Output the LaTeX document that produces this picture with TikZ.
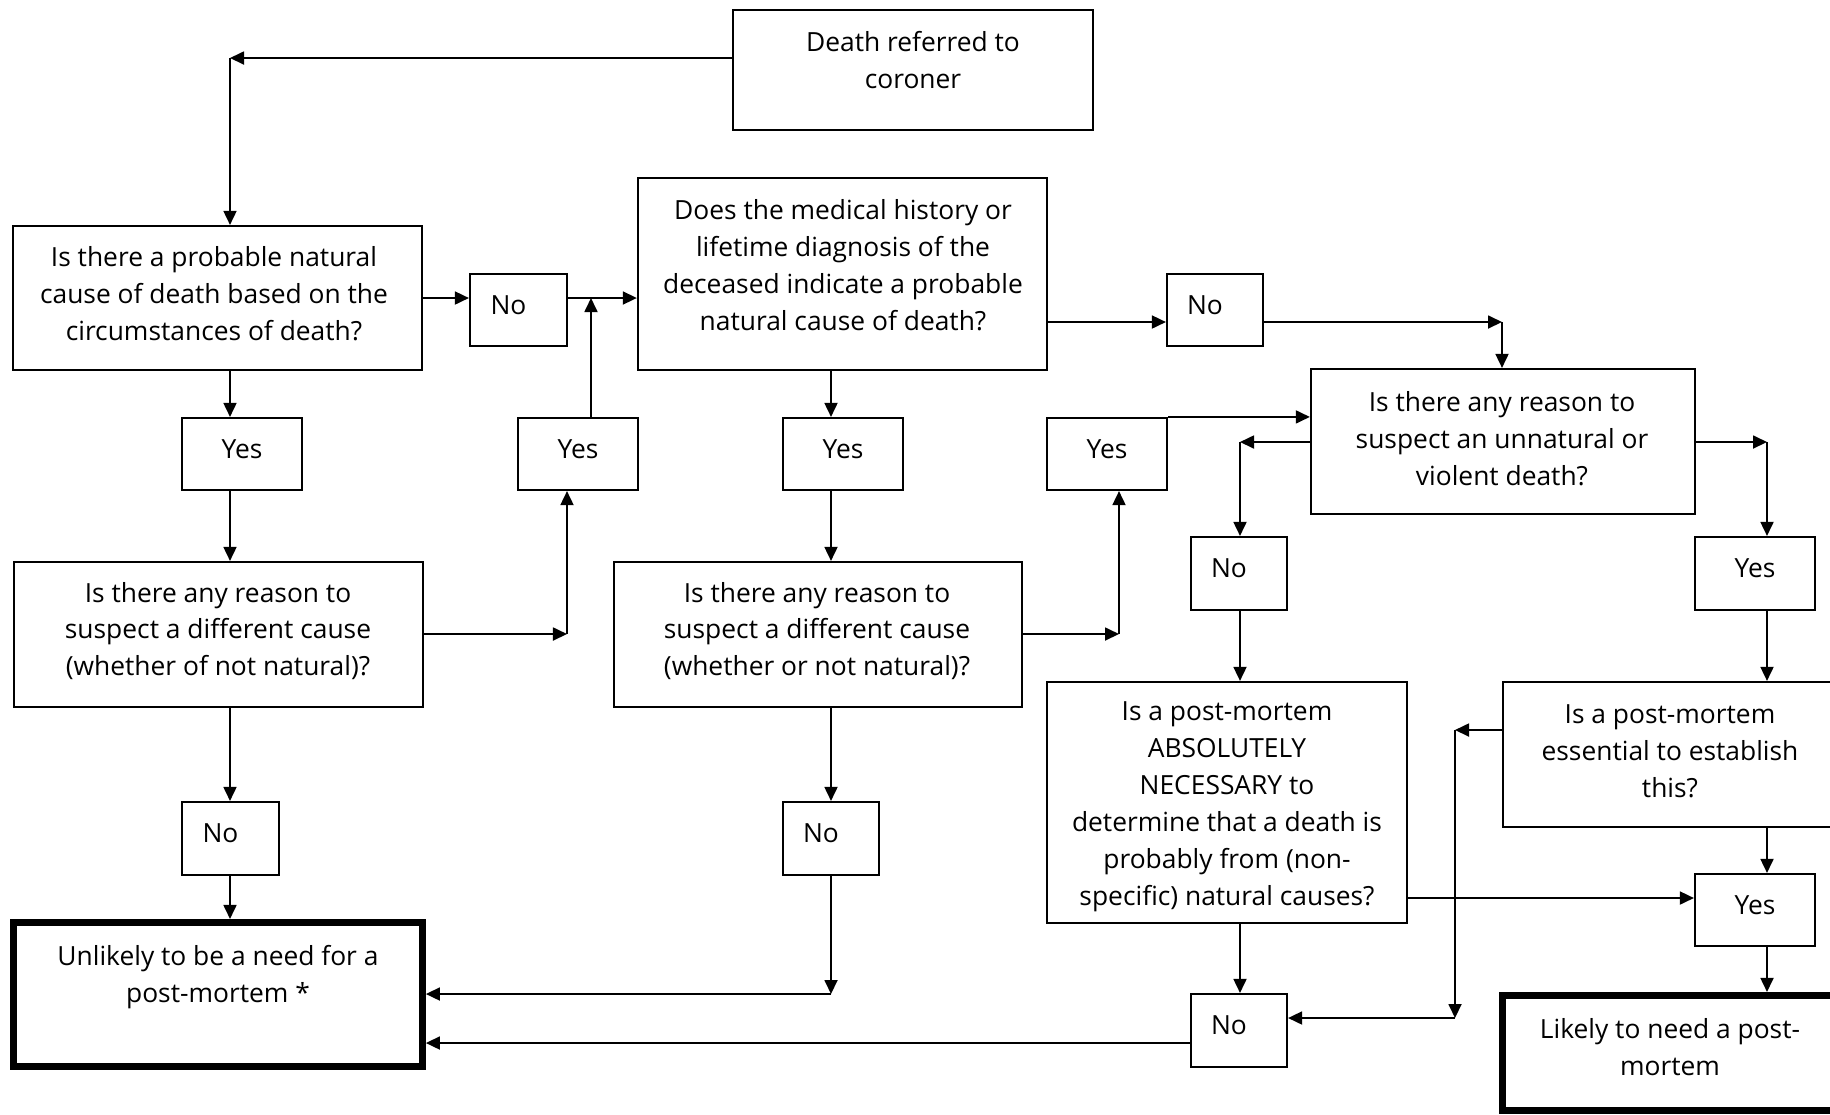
\documentclass[tikz,border=0pt]{standalone}
\usepackage{fontspec}
\setmainfont{Open Sans}
\usetikzlibrary{arrows.meta}
\begin{document}
\begin{tikzpicture}[x=0.01cm,y=-0.01cm,
  every node/.style={font=\fontsize{7.5pt}{10.5pt}\selectfont},
  box/.style={draw, line width=0.6pt, align=center, inner sep=0pt},
  small/.style={box, text depth=0.1cm},
  term/.style={draw, line width=2pt, inner sep=0pt},
  txt/.style={align=center, inner sep=0pt},
  arr/.style={line width=0.5pt, -{Triangle[length=0.14cm,width=0.13cm]}},
]
\useasboundingbox (0,0) rectangle (1830,1114);
\clip (0,0) rectangle (1830,1114);

% boxes
\node[box, minimum width=3.60cm, minimum height=1.20cm] (death) at (913,70) {};
\node[txt] (deathT) at (913,60) {Death referred to\\coroner};

\node[box, minimum width=4.09cm, minimum height=1.44cm] (q1) at (217.5,298) {};
\node[txt] (q1T) at (214,294) {Is there a probable natural\\cause of death based on the\\circumstances of death?};

\node[box, minimum width=4.09cm, minimum height=1.92cm] (q2) at (842.5,274) {};
\node[txt] (q2T) at (843,265) {Does the medical history or\\lifetime diagnosis of the\\deceased indicate a probable\\natural cause of death?};

\node[small, minimum width=0.97cm, minimum height=0.72cm] (no1) at (518.5,310) {No\hspace*{0.2cm}};
\node[small, minimum width=0.96cm, minimum height=0.72cm] (no4) at (1215,310) {No\hspace*{0.2cm}};

\node[small, minimum width=1.20cm, minimum height=0.72cm] (yes1) at (242,454) {Yes};
\node[small, minimum width=1.20cm, minimum height=0.72cm] (yes2) at (578,454) {Yes};
\node[small, minimum width=1.20cm, minimum height=0.72cm] (yes3) at (843,454) {Yes};
\node[small, minimum width=1.20cm, minimum height=0.72cm] (yes4) at (1107,454) {Yes};

\node[box, minimum width=3.84cm, minimum height=1.45cm] (q6) at (1503,441.5) {};
\node[txt] (q6T) at (1502,439) {Is there any reason to\\suspect an unnatural or\\violent death?};

\node[box, minimum width=4.09cm, minimum height=1.45cm] (q3) at (218.5,634.5) {};
\node[txt] (q3T) at (218,631) {Is there any reason to\\suspect a different cause\\(whether of not natural)?};

\node[box, minimum width=4.08cm, minimum height=1.45cm] (q4) at (818,634.5) {};
\node[txt] (q4T) at (817,631) {Is there any reason to\\suspect a different cause\\(whether or not natural)?};

\node[small, minimum width=0.96cm, minimum height=0.73cm] (no5) at (1239,573.5) {No\hspace*{0.2cm}};
\node[small, minimum width=1.20cm, minimum height=0.73cm] (yes5) at (1755,573.5) {Yes};

\node[box, minimum width=3.60cm, minimum height=2.41cm] (q5) at (1227,802.5) {};
\node[txt] (q5T) at (1227,807) {Is a post-mortem\\ABSOLUTELY\\NECESSARY to\\determine that a death is\\probably from (non-\\specific) natural causes?};

\node[box, minimum width=3.37cm, minimum height=1.45cm] (q7) at (1671.5,754.5) {};
\node[txt] (q7T) at (1670,751) {Is a post-mortem\\essential to establish\\this?};

\node[small, minimum width=0.97cm, minimum height=0.73cm] (no2) at (230.5,838.5) {No\hspace*{0.2cm}};
\node[small, minimum width=0.96cm, minimum height=0.73cm] (no3) at (831,838.5) {No\hspace*{0.2cm}};
\node[small, minimum width=1.20cm, minimum height=0.72cm] (yes6) at (1755,910) {Yes};
\node[small, minimum width=0.96cm, minimum height=0.73cm] (no6) at (1239,1030.5) {No\hspace*{0.2cm}};

\node[term, minimum width=4.085cm, minimum height=1.44cm] (unl) at (218,994.5) {};
\node[txt] (unlT) at (218,977) {Unlikely to be a need for a\\post-mortem *};

\node[term, minimum width=3.37cm, minimum height=1.15cm] (likely) at (1671,1053) {};
\node[txt] (likelyT) at (1670,1047.5) {Likely to need a post-\\mortem};

% connectors
\coordinate (c0) at (230,58);
\draw[arr] (death.west |- c0) -- (c0);
\draw[arr] (c0) -- (c0 |- q1.north);

\coordinate (c12) at (0,298);
\draw[arr] (q1.east |- c12) -- (no1.west |- c12);
\draw[arr] (no1.east |- c12) -- (q2.west |- c12);
\coordinate (c1) at (591,298);
\draw[arr] (c1 |- yes2.north) -- (c1);

\draw[arr] (c0 |- q1.south) -- (c0 |- yes1.north);
\draw[arr] (c0 |- yes1.south) -- (c0 |- q3.north);
\draw[arr] (c0 |- q3.south) -- (c0 |- no2.north);
\draw[arr] (c0 |- no2.south) -- (c0 |- unl.north);

\coordinate (c2) at (567,634);
\draw[arr] (q3.east |- c2) -- (c2);
\draw[arr] (c2) -- (c2 |- yes2.south);

\coordinate (c3) at (831,994);
\draw[arr] (c3 |- q2.south) -- (c3 |- yes3.north);
\draw[arr] (c3 |- yes3.south) -- (c3 |- q4.north);
\draw[arr] (c3 |- q4.south) -- (c3 |- no3.north);
\draw[arr] (c3 |- no3.south) -- (c3);
\draw[arr] (c3) -- (c3 -| unl.east);

\coordinate (c4) at (1502,322);
\draw[arr] (q2.east |- c4) -- (c4 -| no4.west);
\draw[arr] (no4.east |- c4) -- (c4);
\draw[arr] (c4) -- (c4 |- q6.north);

\coordinate (c5) at (1119,634);
\draw[arr] (q4.east |- c5) -- (c5);
\draw[arr] (c5) -- (c5 |- yes4.south);
\draw[arr] (yes4.north east) -- (yes4.north east -| q6.west);

\coordinate (c6) at (1240,442);
\coordinate (c7) at (1767,442);
\draw[arr] (q6.west |- c6) -- (c6);
\draw[arr] (c6) -- (c6 |- no5.north);
\draw[arr] (q6.east |- c7) -- (c7);
\draw[arr] (c7) -- (c7 |- yes5.north);
\draw[arr] (c6 |- no5.south) -- (c6 |- q5.north);
\draw[arr] (c7 |- yes5.south) -- (c7 |- q7.north);
\draw[arr] (c6 |- q5.south) -- (c6 |- no6.north);
\draw[arr] (c7 |- q7.south) -- (c7 |- yes6.north);
\draw[arr] (c7 |- yes6.south) -- (c7 |- likely.north);

\coordinate (c8) at (1455,730);
\coordinate (c9) at (1455,1018);
\draw[arr] (q7.west |- c8) -- (c8);
\draw[arr] (c8) -- (c9);
\draw[arr] (c9) -- (c9 -| no6.east);

\coordinate (c10) at (1407,898);
\draw[arr] (q5.east |- c10) -- (c10 -| yes6.west);

\coordinate (c11) at (1191,1043);
\draw[arr] (no6.west |- c11) -- (c11 -| unl.east);
\end{tikzpicture}
\end{document}
